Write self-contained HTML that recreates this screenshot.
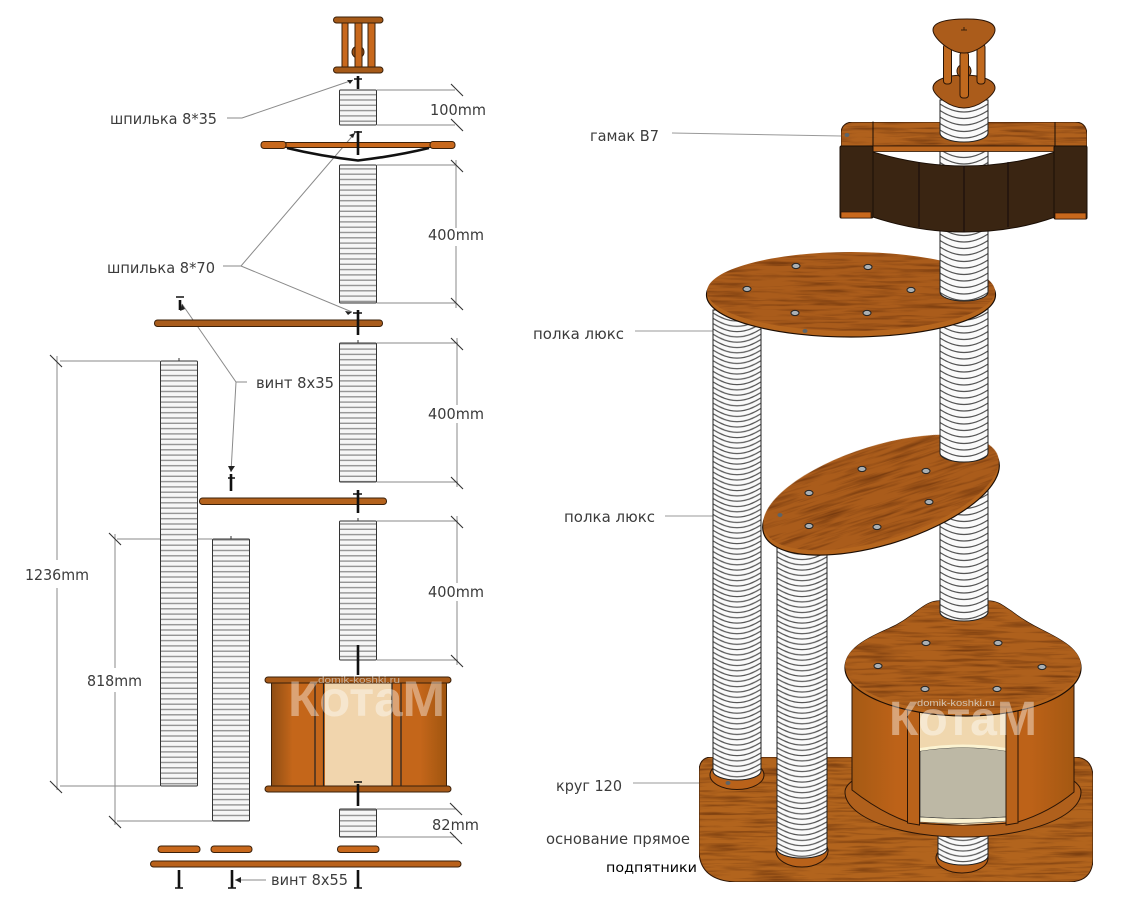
<!DOCTYPE html>
<html><head><meta charset="utf-8"><style>
html,body{margin:0;padding:0;background:#fff}
svg{display:block}
text{font-family:"DejaVu Sans","Liberation Sans",sans-serif;fill:#3c3c3c}
</style></head><body>
<svg width="1123" height="900" viewBox="0 0 1123 900" xmlns="http://www.w3.org/2000/svg">
<defs>
<filter id="wood" x="0" y="0" width="100%" height="100%" color-interpolation-filters="sRGB">
<feTurbulence type="fractalNoise" baseFrequency="0.02 0.32" numOctaves="3" seed="4" result="n"/>
<feColorMatrix in="n" type="matrix" values="0 0 0 0 .36  0 0 0 0 .16  0 0 0 0 .03  1.5 0 0 0 -.66" result="d"/>
<feComposite in="d" in2="SourceGraphic" operator="atop"/>
</filter>
<pattern id="flat" patternUnits="userSpaceOnUse" x="0" y="0" width="10" height="5.3">
<rect width="10" height="5.3" fill="#f6f6f6"/><rect y="3.9" width="10" height="1.4" fill="#949494"/>
</pattern>
<pattern id="rA" patternUnits="userSpaceOnUse" x="713" y="0" width="48" height="5.3">
<rect width="48" height="5.3" fill="#fafafa"/>
<g fill="none" stroke="#555" stroke-width="1.2"><path d="M0-5Q24 11 48-5"/><path d="M0 .3Q24 16 48 .3"/><path d="M0-10.3Q24 5.7 48-10.3"/><path d="M0 5.6Q24 21 48 5.6"/></g>
</pattern>
<pattern id="rB" patternUnits="userSpaceOnUse" x="777" y="0" width="50" height="5.3">
<rect width="50" height="5.3" fill="#fafafa"/>
<g fill="none" stroke="#555" stroke-width="1.2"><path d="M0-5Q25 11 50-5"/><path d="M0 .3Q25 16 50 .3"/><path d="M0-10.3Q25 5.7 50-10.3"/><path d="M0 5.6Q25 21 50 5.6"/></g>
</pattern>
<pattern id="rD" patternUnits="userSpaceOnUse" x="938" y="0" width="50" height="5.3">
<rect width="50" height="5.3" fill="#fafafa"/>
<g fill="none" stroke="#555" stroke-width="1.2"><path d="M0-5Q25 11 50-5"/><path d="M0 .3Q25 16 50 .3"/><path d="M0-10.3Q25 5.7 50-10.3"/><path d="M0 5.6Q25 21 50 5.6"/></g>
</pattern>
<pattern id="rC" patternUnits="userSpaceOnUse" x="940" y="0" width="48" height="6.5">
<rect width="48" height="6.5" fill="#fafafa"/>
<g fill="none" stroke="#555" stroke-width="1.2"><path d="M0-6.500Q24 9.500 48-6.500"/><path d="M0 0Q24 16 48 0"/><path d="M0-13Q24 3 48-13"/><path d="M0 6.500Q24 22.500 48 6.500"/></g>
</pattern>
<linearGradient id="drumL" x1="0" x2="1" y1="0" y2="0">
<stop offset="0" stop-color="#8f4e14"/><stop offset=".12" stop-color="#c4661a"/><stop offset=".85" stop-color="#c4661a"/><stop offset="1" stop-color="#a0550f"/>
</linearGradient>
<linearGradient id="drumR" x1="0" x2="1" y1="0" y2="0">
<stop offset="0" stop-color="#a55a14"/><stop offset=".2" stop-color="#bd6218"/><stop offset=".8" stop-color="#bd6218"/><stop offset="1" stop-color="#a45812"/>
</linearGradient>
<symbol id="sc" overflow="visible"><ellipse cx="0" cy="0" rx="4" ry="2.6" fill="#aab0b4" stroke="#222" stroke-width="1"/></symbol>
</defs>
<rect width="1123" height="900" fill="#fff"/>

<!-- LEFT: dimension lines -->
<g stroke="#8a8a8a" stroke-width="1" fill="none">
<path d="M377 90H455M377 125H455M377 165H456M377 303H456M456 160V228M456 246V308M377 343H458M377 482H458M457 338V405M457 423V487M377 521H458M377 660H458M457 516V583M457 601V665"/>
<path d="M377 809H456M377 837H456"/>
<path d="M60 361H160M60 786H160M57 356V560M57 588V790M117 539H212M117 821H212M115 534V668M115 692V825"/>
<path d="M227 118H242L353 80M223 266H241L355 133M241 266L352 312M247 382H236L182 304M236 382L231 472M266 880H235"/>
</g>
<g stroke="#333" stroke-width="1.1">
<path d="M451 84L463 96M451 119L463 131M451 160L463 172M451 298L463 310M451 338L463 350M451 477L463 489M451 516L463 528M451 655L463 667M450 803L462 815M450 832L462 844M50 355L62 367M50 781L62 793M109 533L121 545M109 816L121 828"/>
<path d="M179 358V361M231 536V539M358 340V343M358 518V521" stroke-width="1"/>
</g>

<!-- LEFT: top cage -->
<g stroke="#3a200a" stroke-width="1">
<rect x="342" y="21" width="6" height="47" fill="#c8681c"/>
<rect x="368" y="21" width="7" height="47" fill="#c8681c"/>
<circle cx="358" cy="52" r="6" fill="#9c5115"/>
<rect x="355" y="21" width="7" height="47" fill="#c8681c"/>
<rect x="333.500" y="17" width="49.500" height="6" rx="3" fill="#a65a18"/>
<rect x="333.500" y="67" width="49.500" height="6" rx="3" fill="#a65a18"/>
</g>

<!-- LEFT: ropes -->
<g fill="url(#flat)" stroke="#333" stroke-width="1">
<rect x="339.500" y="90" width="37" height="35" rx="1"/>
<rect x="339.500" y="165" width="37" height="138" rx="1"/>
<rect x="339.500" y="343" width="37" height="139" rx="1"/>
<rect x="339.500" y="521" width="37" height="139" rx="1"/>
<rect x="160.500" y="361" width="37" height="425" rx="1"/>
<rect x="212.500" y="539" width="37" height="282" rx="1"/>
<rect x="339.500" y="809" width="37" height="28" rx="1"/>
</g>

<!-- LEFT: shelves -->
<g stroke="#3a200a" stroke-width="1">
<rect x="286" y="142.500" width="145" height="5" fill="#c8681c"/>
<rect x="261" y="141.500" width="25" height="7" rx="3" fill="#c8681c"/>
<rect x="430" y="141.500" width="25" height="7" rx="3" fill="#c8681c"/>
<rect x="154.500" y="320" width="228" height="6.500" rx="3" fill="#a85c1c"/>
<rect x="199.500" y="498" width="187" height="6.500" rx="3" fill="#b4621c"/>
<rect x="158" y="846" width="42" height="6.500" rx="3" fill="#c8681c"/>
<rect x="211" y="846" width="41" height="6.500" rx="3" fill="#c8681c"/>
<rect x="337.500" y="846" width="41.500" height="6.500" rx="3" fill="#c8681c"/>
<rect x="150.500" y="861" width="310.500" height="6" rx="3" fill="#b9611a"/>
</g>
<path d="M287 148Q320 156 358 160.500Q396 156 429 148" fill="none" stroke="#111" stroke-width="2.6"/>

<!-- LEFT: drum -->
<rect x="271.500" y="683" width="175" height="103" fill="url(#drumL)" stroke="#3a200a"/>
<rect x="325" y="683" width="67" height="103" fill="#f1d5ad"/>
<path d="M315 683V786M323.500 683V786M392 683V786M401 683V786" stroke="#222" stroke-width="1.2" fill="none"/>
<rect x="265" y="677" width="186" height="6" rx="3" fill="#a85a18" stroke="#3a200a"/>
<rect x="265" y="786" width="186" height="6" rx="3" fill="#a85a18" stroke="#3a200a"/>

<!-- LEFT: bolts -->
<g stroke="#111" stroke-width="2.600" fill="none">
<path d="M358 76V89M358 131V155M358 310V335M358 490V513M358 645V675M358 784V806"/>
<path d="M180 300V310M231 474V491"/>
<path d="M179 870V888M232 870V888M358 870V888"/>
</g>
<g stroke="#111" stroke-width="1.400" fill="none">
<path d="M354 79H362M354 132H362M353 313H362M353 494H362M176 297H184M228 478H235M354 782H362M175 888H183M228 888H236M354 888H362"/>
</g>
<g fill="#222">
<path d="M353 80L347 80L350 84ZM355 133L349 135L353 138ZM352 312L345 311L348 315ZM182 304L180 311L185 309ZM231 472L228 466L235 466ZM235 880L241 877V883Z"/>
</g>

<!-- LEFT: labels -->
<g font-size="15.500">
<text x="110" y="124" textLength="107" lengthAdjust="spacingAndGlyphs">шпилька 8*35</text>
<text x="107" y="273" textLength="108" lengthAdjust="spacingAndGlyphs">шпилька 8*70</text>
<text x="256" y="388" textLength="78" lengthAdjust="spacingAndGlyphs">винт 8х35</text>
<text x="271" y="885" textLength="77" lengthAdjust="spacingAndGlyphs">винт 8х55</text>
<text x="430" y="115" textLength="56" lengthAdjust="spacingAndGlyphs">100mm</text>
<text x="428" y="240" textLength="56" lengthAdjust="spacingAndGlyphs">400mm</text>
<text x="428" y="419" textLength="56" lengthAdjust="spacingAndGlyphs">400mm</text>
<text x="428" y="597" textLength="56" lengthAdjust="spacingAndGlyphs">400mm</text>
<text x="25" y="580" textLength="64" lengthAdjust="spacingAndGlyphs">1236mm</text>
<text x="87" y="686" textLength="55" lengthAdjust="spacingAndGlyphs">818mm</text>
<text x="432" y="830" textLength="47" lengthAdjust="spacingAndGlyphs">82mm</text>
</g>

<!-- LEFT watermark -->
<text x="288" y="716" font-size="50" font-weight="bold" style="fill:#fff;fill-opacity:.4;font-family:'Liberation Sans',sans-serif" textLength="157" lengthAdjust="spacingAndGlyphs">КотаМ</text>
<text x="318" y="683" font-size="9.500" style="fill:#c9c0b4;fill-opacity:.85;font-family:'Liberation Sans',sans-serif" textLength="82" lengthAdjust="spacingAndGlyphs">domik-koshki.ru</text>

<!-- RIGHT labels -->
<g stroke="#999" stroke-width="1" fill="none">
<path d="M672 133L841 136M635 331H713M665 516H713M633 783H700"/>
</g>
<g font-size="15.500">
<text x="590" y="141" textLength="69" lengthAdjust="spacingAndGlyphs">гамак В7</text>
<text x="533" y="339" textLength="91" lengthAdjust="spacingAndGlyphs">полка люкс</text>
<text x="564" y="522" textLength="91" lengthAdjust="spacingAndGlyphs">полка люкс</text>
<text x="556" y="791" textLength="66" lengthAdjust="spacingAndGlyphs">круг 120</text>
<text x="546" y="844" textLength="144" lengthAdjust="spacingAndGlyphs">основание прямое</text>
</g>
<text x="606" y="872" font-size="13" style="fill:#000" textLength="91" lengthAdjust="spacingAndGlyphs">подпятники</text>

<!-- RIGHT: base -->
<path d="M712 757H1075Q1093 758 1093 778V858Q1093 882 1068 882H735Q699 880 699 850V772Q699 757 712 757Z" fill="#b2641d" stroke="#2b1506" stroke-width="1" filter="url(#wood)"/>

<!-- RIGHT: lower stub C -->
<ellipse cx="962" cy="858" rx="26" ry="15" fill="#b9621a" stroke="#2b1506"/>
<path d="M938 830V856A25 9 0 0 0 988 856V830Z" fill="url(#rD)" stroke="#222"/>

<!-- RIGHT: column A -->
<ellipse cx="737" cy="775" rx="27" ry="14.500" fill="#b9621a" stroke="#2b1506"/>
<path d="M713 310V771A24 9 0 0 0 761 771V310Z" fill="url(#rA)" stroke="#222"/>
<ellipse cx="728" cy="783" rx="2.500" ry="2" fill="#5d6468"/>
<!-- RIGHT: column B -->
<ellipse cx="802" cy="851" rx="26" ry="16" fill="#b9621a" stroke="#2b1506"/>
<path d="M777 540V849A25 9 0 0 0 827 849V540Z" fill="url(#rB)" stroke="#222"/>

<!-- RIGHT: drum -->
<path d="M845 792A118 45 0 0 0 1081 792A118 32 0 0 0 845 792Z" fill="#b0601c" stroke="#2b1506"/>
<path d="M852 680V790Q880 812 908 822Q963 828 1018 822Q1050 812 1074 792V680Z" fill="url(#drumR)" stroke="#2b1506"/>
<path d="M920 700H1006V822L963 825L920 822Z" fill="#f0d7ae"/>
<path d="M920 751Q963 744 1006 751V817Q963 820 920 817Z" fill="#bdb8a5" stroke="#333" stroke-width=".8"/>
<path d="M920 748Q963 741 1006 748V751Q963 744 920 751Z" fill="#fbf3d2"/>
<path d="M920 817Q963 820 1006 817V821Q963 825 920 822Z" fill="#fbf3d2" stroke="#333" stroke-width=".6"/>
<path d="M907.500 700V823L919.500 825V700ZM1006 700V825L1018 823V700Z" fill="#b9621a" stroke="#2b1506"/>
<!-- drum top -->
<path d="M940 601C930 601 924 606 917 611C908 618 900 624 888 629C865 639 845 650 845 668C845 694 900 716 966 716C1030 716 1081 694 1081 668C1081 650 1062 640 1042 630C1030 624 1020 618 1011 611C1003 606 998 601 988 601Z" fill="#b5651d" stroke="#1d0e04" stroke-width="1.2"/>
<path d="M940 601C930 601 924 606 917 611C908 618 900 624 888 629C865 639 845 650 845 666C845 690 900 712 966 712C1030 712 1081 690 1081 666C1081 650 1062 640 1042 630C1030 624 1020 618 1011 611C1003 606 998 601 988 601Z" fill="#ae601c" filter="url(#wood)"/>
<!-- rope C to drum -->
<path d="M940 480V612A24 9 0 0 0 988 612V480Z" fill="url(#rC)"/>
<path d="M940 480V612A24 9 0 0 0 988 612V480" fill="none" stroke="#222"/>
<use href="#sc" x="926" y="643"/><use href="#sc" x="998" y="643"/><use href="#sc" x="878" y="666"/><use href="#sc" x="1042" y="667"/><use href="#sc" x="925" y="689"/><use href="#sc" x="997" y="689"/>

<!-- RIGHT: shelf 2 -->
<ellipse cx="881" cy="496.500" rx="123" ry="48" transform="rotate(-17.300 881 496.500)" fill="#b5651d" stroke="#1d0e04" stroke-width="1.2"/>
<ellipse cx="881" cy="492.500" rx="122.500" ry="47" transform="rotate(-17.300 881 492.500)" fill="#aa5c1b" filter="url(#wood)"/>
<use href="#sc" x="809" y="493"/><use href="#sc" x="862" y="469"/><use href="#sc" x="926" y="471"/><use href="#sc" x="929" y="502"/><use href="#sc" x="877" y="527"/><use href="#sc" x="809" y="526"/>
<ellipse cx="780" cy="515" rx="2.500" ry="2" fill="#5d6468"/>
<path d="M940 300V453A24 9 0 0 0 988 453V300Z" fill="url(#rC)" stroke="#222"/>

<!-- RIGHT: shelf 1 -->
<ellipse cx="851" cy="295" rx="144.500" ry="42" fill="#b5651d" stroke="#1d0e04" stroke-width="1.2"/>
<ellipse cx="851" cy="291.500" rx="144" ry="39.500" fill="#aa5c1b" filter="url(#wood)"/>
<use href="#sc" x="796" y="266"/><use href="#sc" x="868" y="267"/><use href="#sc" x="747" y="289"/><use href="#sc" x="911" y="290"/><use href="#sc" x="795" y="313"/><use href="#sc" x="867" y="313"/>
<ellipse cx="805" cy="331" rx="2.500" ry="2" fill="#5d6468"/>

<!-- RIGHT: rope top -->
<path d="M940 100V292A24 9 0 0 0 988 292V100Z" fill="url(#rC)" stroke="#222"/>

<!-- RIGHT: hammock -->
<path d="M873 152V217C900 226 930 232 964 232C1000 232 1030 226 1055 217V152C1030 160 1000 166 964 166C930 166 900 160 873 152Z" fill="#3a2512" stroke="#1a0e05"/>
<path d="M919 162V227M964 166V232M1008 162V227" stroke="#14090a" stroke-width="1"/>
<path d="M852 122H1075Q1087 122 1087 136V146H841V134Q841 123 852 122Z" fill="#b0611d" stroke="#2b1506" filter="url(#wood)"/>
<path d="M873 121.500V146M1055 122V146" stroke="#1a0e05" stroke-width="1"/>
<rect x="873" y="146" width="182" height="5.500" fill="#bb661e" stroke="#2b1506" stroke-width=".8"/>
<path d="M940 100V133A24 9 0 0 0 988 133V100Z" fill="url(#rC)" stroke="#222"/>
<rect x="840" y="146" width="33" height="72" rx="1.500" fill="#3a2512" stroke="#1a0e05"/>
<rect x="1054" y="146" width="33" height="73" rx="1.500" fill="#3a2512" stroke="#1a0e05"/>
<rect x="841" y="212" width="30" height="6" fill="#c8681c" stroke="#2b1506" stroke-width=".7"/>
<rect x="1055" y="213" width="31" height="6" fill="#c8681c" stroke="#2b1506" stroke-width=".7"/>
<ellipse cx="847" cy="135" rx="2.500" ry="2" fill="#5d6468"/>

<!-- RIGHT: top tower -->
<path d="M964 75C978 75 995 79 995 88C995 95 978 108 964 108C950 108 933 95 933 88C933 79 950 75 964 75Z" fill="#ab5c1b" stroke="#2b1506"/>
<circle cx="964" cy="71" r="7" fill="#a85a1a" stroke="#2b1506"/>
<g fill="#c0691e" stroke="#2b1506" stroke-width="1">
<rect x="943.500" y="44" width="8" height="40" rx="3"/>
<rect x="977" y="44" width="8" height="40" rx="3"/>
<rect x="960" y="52" width="8.500" height="46" rx="3"/>
</g>
<path d="M967 19C980 19 995 21 995 30C995 38 978 53 964 53C950 53 933 38 933 30C933 21 950 19 967 19Z" fill="#ab5c1b" stroke="#2b1506"/>
<path d="M961 30H967M964 27V30" stroke="#3a200a"/>

<!-- RIGHT watermark -->
<text x="889" y="735" font-size="48" font-weight="bold" style="fill:#fff;fill-opacity:.42;font-family:'Liberation Sans',sans-serif" textLength="148" lengthAdjust="spacingAndGlyphs">КотаМ</text>
<text x="917" y="706" font-size="9.500" style="fill:#d8cfc2;fill-opacity:.9;font-family:'Liberation Sans',sans-serif" textLength="78" lengthAdjust="spacingAndGlyphs">domik-koshki.ru</text>
</svg>
</body></html>
